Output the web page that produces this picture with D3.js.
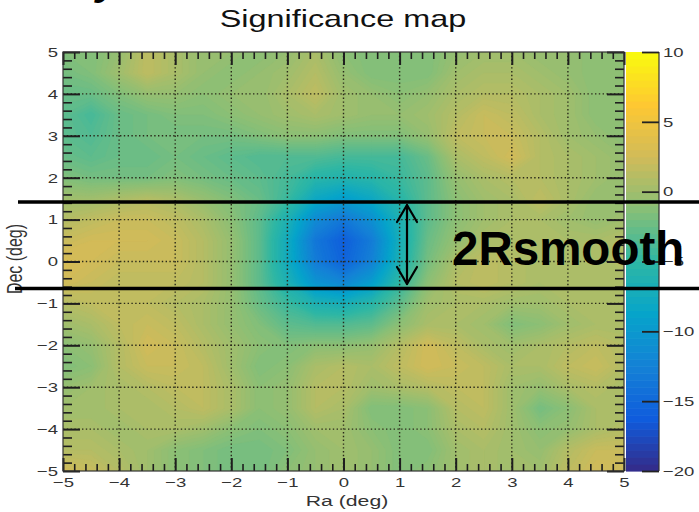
<!DOCTYPE html>
<html>
<head>
<meta charset="utf-8">
<script src="https://cdn.jsdelivr.net/npm/d3@7"></script>
<style>
  body { margin: 0; background: #fff; }
  svg { display: block; font-family: 'Liberation Sans', Arial, Helvetica, sans-serif; }
</style>
</head>
<body>
<div id="plot"></div>
<script>
// Significance map data: values on a 0.5 deg grid, rows from Dec=5 (top) to Dec=-5
const raNodes = [-5, -4.5, -4, -3.5, -3, -2.5, -2, -1.5, -1, -0.5, 0, 0.5, 1, 1.5, 2, 2.5, 3, 3.5, 4, 4.5, 5];
const decNodes = [5, 4.5, 4, 3.5, 3, 2.5, 2, 1.5, 1, 0.5, 0, -0.5, -1, -1.5, -2, -2.5, -3, -3.5, -4, -4.5, -5];
const significance = [
  [-1.5, -1.5, -0.5, 1.5, 0.5, -0.5, -0.5, -1, -0.5, 0.5, -1, -1.5, -1.5, -1.5, -0.5, 0, 0, -0.5, -0.5, -1, -1],
  [-2, -1.5, 0, 1.5, 0.5, -0.5, -1, -0.5, 0, 1, -0.5, -1.5, -1.5, -1.5, 0, 0.5, 0.5, 0, -0.5, -1, -1],
  [-2.5, -2.5, -1.5, -0.5, -0.5, -1, -0.5, -0.5, 0.5, 1.5, 0, -0.5, -1, -0.5, 0.5, 1, 1, 0.5, 0, -1, -1],
  [-3, -4, -2.5, -2, -1.5, -1.5, -1, -0.5, 0, 0.5, 0, -0.5, -0.5, 0, 1, 2, 1.5, 0.5, 0, -1, -1],
  [-3, -3.5, -2.5, -2, -2, -2, -2, -1.5, -1, -1, -1.5, -1.5, -1.5, -0.5, 1.5, 2, 2, 1, 0, -0.5, -1],
  [-2.5, -3, -2.5, -2.5, -2, -2.5, -3, -3.5, -3.5, -3.5, -4, -4, -4, -2.5, 0.5, 1.5, 2.5, 1, 0.5, 0, -0.5],
  [-1.5, -2, -2, -2, -1.5, -2, -2.5, -3, -4, -5.5, -6, -5.5, -4.5, -3, -0.5, 0.5, 1, 1, 0.5, 0, -0.5],
  [0, 0, 0.5, 1, 0.5, -0.5, -1.5, -2.5, -4.5, -8, -9.5, -8, -5.5, -3, -1, 0, 0.5, 1.5, 0.5, -0.5, -0.5],
  [1, 1.5, 2, 2, 1.5, 0.5, -1, -3, -6.5, -11.5, -13.5, -11, -6.5, -3, -1, 0, 0.5, 0.5, 0, -0.5, 0],
  [2, 2.5, 2.5, 2.5, 2, 1, -0.5, -3, -7.5, -13.5, -16, -13, -7, -2.5, -0.5, 0.5, 0.5, 0.5, 0.5, 0.5, 1],
  [3, 2.5, 2, 2, 2, 1, -0.5, -3, -7.5, -13, -15.5, -12.5, -6.5, -2, 0.5, 1.5, 1, 0.5, 0.5, 0.5, 1],
  [2.5, 2, 1.5, 1.5, 1.5, 1, -0.5, -3, -6.5, -10.5, -12, -9.5, -5, -1, 1, 1.5, 1, 0.5, 0.5, 0.5, 0.5],
  [1, 1.5, 1.5, 1.5, 1, 0.5, -0.5, -2.5, -4.5, -6.5, -7, -5.5, -3, 0, 0.5, 0.5, 0, 0, 0.5, 0.5, 0.5],
  [0, 0.5, 1.5, 2, 1.5, 0.5, -0.5, -1.5, -3, -3.5, -3.5, -3, -1, 0.5, 0.5, 0, -1.5, -1, 0, 0.5, 0.5],
  [-1, -0.5, 1, 2.5, 2, 1, 0, -1, -1.5, -1, -1, -0.5, 1, 2.5, 1.5, 0.5, 0, 0.5, 1, 1.5, 1],
  [-1.5, -1, 1, 2, 2, 1.5, 0, -1.5, -1, 0.5, 1, 0.5, 1.5, 2.5, 2, 1.5, 0.5, 0.5, 1.5, 2, 1],
  [-0.5, 0, 0.5, 1, 1.5, 1.5, 0.5, -1, -0.5, 1, 1, 0, 0.5, 1, 1.5, 1.5, 0, -0.5, 0.5, 1, 0.5],
  [0, 0, 0.5, 0.5, 1, 1.5, 0.5, -1, -0.5, 1, 0.5, -1.5, -1.5, -1, 1, 1.5, 0, -2, -1, 0.5, 0.5],
  [0.5, 0.5, 0, 0.5, 0.5, 0, -1, -1.5, -1, 0, 0, -1, -1.5, -1, 0.5, 1, 0, -1, -0.5, 0.5, 1],
  [1, 1, 0.5, 0, -1, -1.5, -2, -2, -1.5, -0.5, 0, -0.5, -1.5, -1.5, 0, 0.5, 0, -0.5, 1, 2, 2],
  [2.5, 2, 1, 0, -1, -1.5, -2, -2, -1, -0.5, 0, -0.5, -1.5, -1, 0, 0.5, 0, 0, 1.5, 2.5, 2.5]
];

// ROOT kBird palette stops
const birdColors = ['#352a87', '#0f5cdd', '#1481d6', '#06a4ca', '#2eb7a4', '#87bf77', '#d1bb59', '#fec832', '#f9fb0e'];
const axisTicks = [-5, -4, -3, -2, -1, 0, 1, 2, 3, 4, 5];
const zTicks = [-20, -15, -10, -5, 0, 5, 10];

const W = 699, H = 512;
const stretch = 1.37; // the picture's text is horizontally widened

const svg = d3.select('#plot').append('svg').attr('width', W).attr('height', H);

const xScale = d3.scaleLinear().domain([-5, 5]).range([63, 624]);
const yScale = d3.scaleLinear().domain([-5, 5]).range([471, 52]);
const zScale = d3.scaleLinear().domain([-20, 10]).range([471, 52]);
const color = d3.scaleLinear()
  .domain(birdColors.map((c, i) => -20 + i * 30 / (birdColors.length - 1)))
  .range(birdColors)
  .interpolate(d3.interpolateRgb)
  .clamp(true);

// Heat map via filled contours
const nx = raNodes.length, ny = decNodes.length;
const flat = [].concat(...significance);
const levels = d3.range(-20, 10, 0.25);
const cx = d3.scaleLinear().domain([0.5, nx - 0.5]).range([xScale(raNodes[0]), xScale(raNodes[nx - 1])]);
const cy = d3.scaleLinear().domain([0.5, ny - 0.5]).range([yScale(decNodes[0]), yScale(decNodes[ny - 1])]);
const path = d3.geoPath(d3.geoTransform({
  point: function (x, y) { this.stream.point(cx(x), cy(y)); }
}));

svg.append('clipPath').attr('id', 'clip')
  .append('rect').attr('x', 63).attr('y', 52).attr('width', 561).attr('height', 419);

const heat = svg.append('g').attr('clip-path', 'url(#clip)');
const bands = d3.contours().size([nx, ny]).thresholds(levels)(flat);
heat.selectAll('path').data(bands).join('path')
  .attr('d', path)
  .attr('fill', d => color(d.value + 0.125))
  .attr('stroke', d => color(d.value + 0.125))
  .attr('stroke-width', 0.3);

// dotted grid
const gridVals = axisTicks.slice(1, -1);
const grid = svg.append('g').attr('stroke', '#2a2a1a').attr('stroke-width', 1.4).attr('stroke-dasharray', '1.4,2.4');
grid.selectAll('.gx').data(gridVals).join('line')
  .attr('x1', d => xScale(d)).attr('x2', d => xScale(d)).attr('y1', 52).attr('y2', 471);
grid.selectAll('.gy').data(gridVals).join('line')
  .attr('y1', d => yScale(d)).attr('y2', d => yScale(d)).attr('x1', 63).attr('x2', 624);

// inner ticks on all four sides
const minorTicks = d3.range(-5, 5.001, 0.2).filter(v => Math.abs(v - Math.round(v)) > 0.01);
function tickSet(axis, size, vals, tx, ty, sw) {
  svg.append('g').attr('transform', `translate(${tx},${ty})`)
    .call(axis.tickValues(vals).tickSize(size).tickFormat(''))
    .call(g => g.select('.domain').remove())
    .selectAll('line').attr('stroke', '#1e1e1e').attr('stroke-width', sw);
}
tickSet(d3.axisRight(yScale), 17, axisTicks, 63, 0, 2);
tickSet(d3.axisRight(yScale), 9, minorTicks, 63, 0, 1.6);
tickSet(d3.axisLeft(yScale), 17, axisTicks, 624, 0, 2);
tickSet(d3.axisLeft(yScale), 9, minorTicks, 624, 0, 1.6);
tickSet(d3.axisBottom(xScale), 13, axisTicks, 0, 52, 2);
tickSet(d3.axisBottom(xScale), 7, minorTicks, 0, 52, 1.6);
tickSet(d3.axisTop(xScale), 13, axisTicks, 0, 471, 2);
tickSet(d3.axisTop(xScale), 7, minorTicks, 0, 471, 1.6);

svg.append('rect').attr('x', 63).attr('y', 52).attr('width', 561).attr('height', 419)
  .attr('fill', 'none').attr('stroke', '#333').attr('stroke-width', 1.2);

// tick labels
const yLab = svg.append('g').attr('transform', 'translate(63,0)')
  .call(d3.axisLeft(yScale).tickValues(axisTicks).tickSize(0).tickPadding(0));
yLab.select('.domain').remove();
yLab.selectAll('text').attr('x', -5 / stretch).attr('transform', `scale(${stretch},1)`)
  .style('font-size', '13.5px').attr('fill', '#333');

const xLab = svg.append('g').attr('transform', 'translate(0,471)')
  .call(d3.axisBottom(xScale).tickValues(axisTicks).tickSize(0).tickPadding(6));
xLab.select('.domain').remove();
xLab.selectAll('text').attr('transform', `scale(${stretch},1)`)
  .style('font-size', '13.5px').attr('fill', '#333');

// colour bar
const cb = svg.append('g');
const cbLevels = d3.range(-20, 10, 0.5);
cb.selectAll('rect').data(cbLevels).join('rect')
  .attr('x', 626).attr('width', 33)
  .attr('y', d => zScale(d + 0.5))
  .attr('height', d => zScale(d) - zScale(d + 0.5) + 0.6)
  .attr('fill', d => color(d + 0.25));
svg.append('line').attr('x1', 659).attr('x2', 659).attr('y1', 52).attr('y2', 471)
  .attr('stroke', '#333').attr('stroke-width', 1.2);
svg.append('g').attr('transform', 'translate(659,0)')
  .call(d3.axisLeft(zScale).tickValues(zTicks).tickSize(17).tickFormat(''))
  .call(g => g.select('.domain').remove())
  .selectAll('line').attr('stroke', '#222').attr('stroke-width', 1.8);
const zLab = svg.append('g').attr('transform', 'translate(659,0)')
  .call(d3.axisRight(zScale).tickValues(zTicks).tickSize(0).tickPadding(0));
zLab.select('.domain').remove();
zLab.selectAll('text').attr('x', 4 / stretch).attr('transform', `scale(${stretch},1)`)
  .style('font-size', '13.5px').attr('fill', '#333');

// titles
svg.append('text')
  .attr('transform', `translate(343,27) scale(${stretch - 0.02},1)`)
  .attr('text-anchor', 'middle').style('font-size', '24px').attr('fill', '#111')
  .text('Significance map');

svg.append('text')
  .attr('transform', `translate(347,506) scale(${stretch},1)`)
  .attr('text-anchor', 'middle').style('font-size', '15.5px').attr('fill', '#333')
  .text('Ra (deg)');

svg.append('text')
  .attr('transform', `translate(22,259) scale(${stretch},1) rotate(-90)`)
  .attr('text-anchor', 'middle').style('font-size', '16px').attr('fill', '#333')
  .text('Dec (deg)');

// cut-off slide text at the very top
svg.append('text').attr('x', 96).attr('y', -6)
  .style('font-size', '44px').style('font-weight', 'bold').style('font-style', 'italic')
  .attr('fill', '#000').text('y');

// overlay annotation: smoothing band
svg.append('line').attr('x1', 18).attr('x2', W).attr('y1', 202).attr('y2', 202)
  .attr('stroke', '#000').attr('stroke-width', 3.5);
svg.append('line').attr('x1', 15).attr('x2', W).attr('y1', 288.5).attr('y2', 288.5)
  .attr('stroke', '#000').attr('stroke-width', 3.5);

const arrow = svg.append('g').attr('stroke', '#000').attr('stroke-width', 2.2).attr('fill', 'none')
  .attr('stroke-linecap', 'round').attr('stroke-linejoin', 'round');
arrow.append('line').attr('x1', 407).attr('x2', 407).attr('y1', 205).attr('y2', 284);
arrow.append('path').attr('d', 'M397,222 L407,205 L417,222');
arrow.append('path').attr('d', 'M397,267 L407,284 L417,267');

svg.append('text').attr('x', 452).attr('y', 265)
  .style('font-size', '47.5px').style('font-weight', 'bold').attr('fill', '#000')
  .text('2Rsmooth');
</script>
</body>
</html>
